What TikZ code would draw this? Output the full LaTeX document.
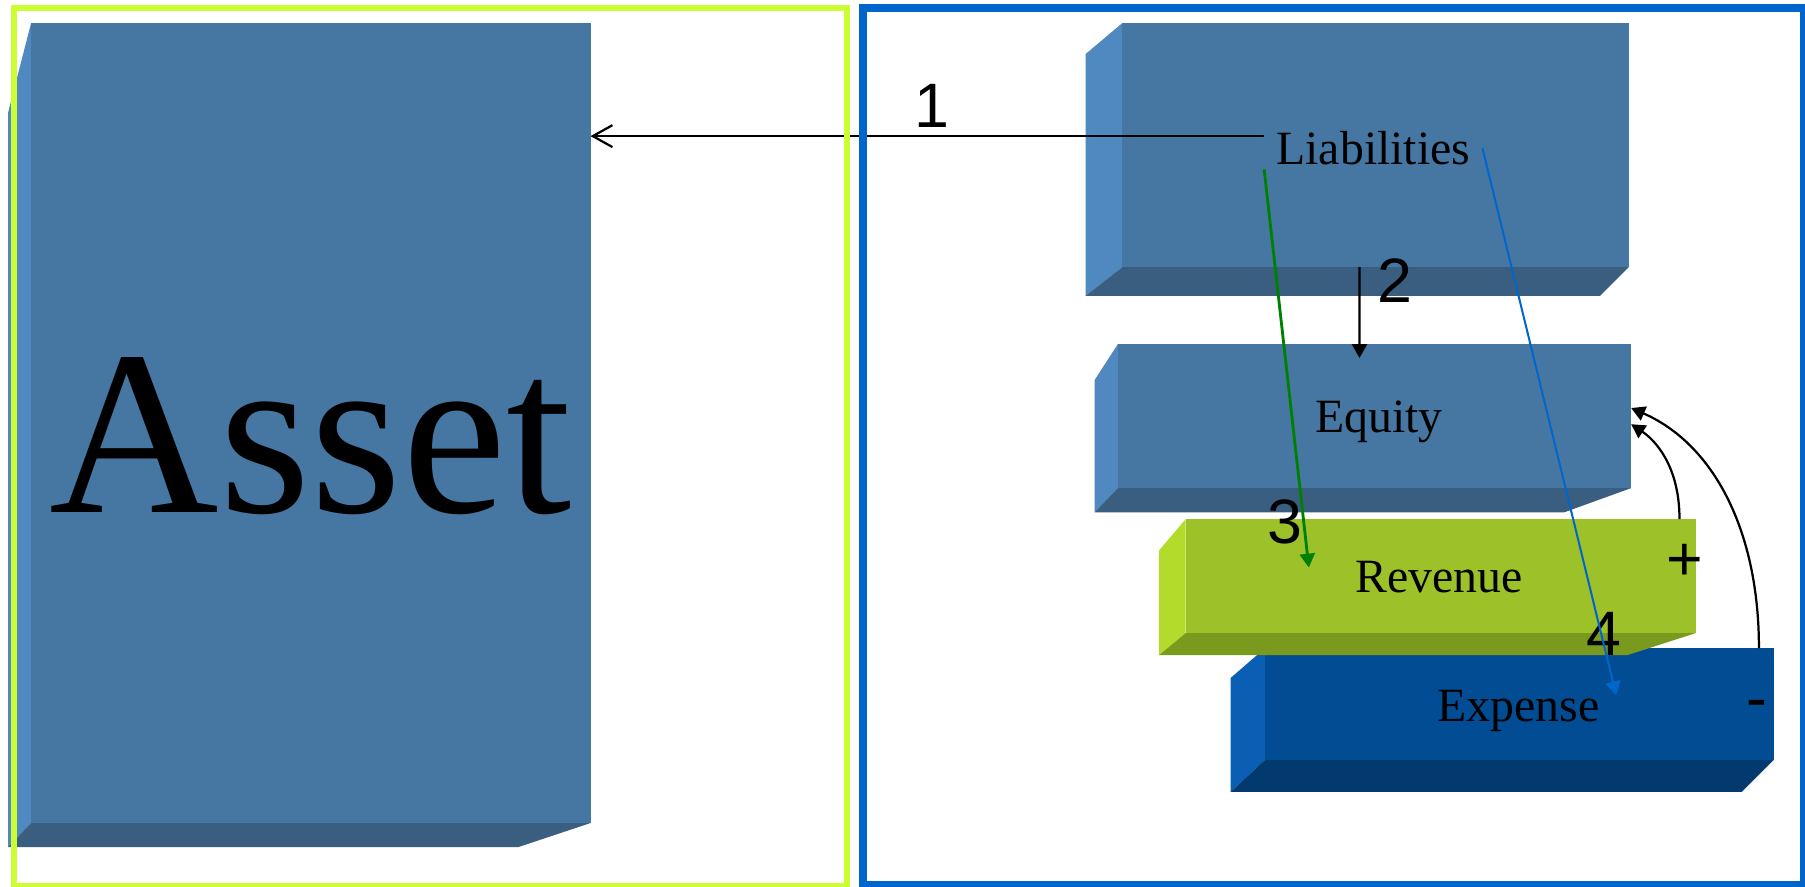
\documentclass[tikz,border=0pt]{standalone}
\usepackage{fontspec}
\setmainfont{Liberation Serif}
\newfontfamily\numfont{Liberation Sans}
\usetikzlibrary{arrows.meta, positioning, calc, fit}
\definecolor{SteelFront}{HTML}{4677A3}
\definecolor{SteelSide}{HTML}{5088C0}
\definecolor{SteelBottom}{HTML}{395E80}
\definecolor{LimeFront}{HTML}{9DC128}
\definecolor{LimeSide}{HTML}{B3DB2C}
\definecolor{LimeBottom}{HTML}{7A9A1E}
\definecolor{NavyFront}{HTML}{024C93}
\definecolor{NavySide}{HTML}{0A5EB4}
\definecolor{NavyBottom}{HTML}{02396F}
\definecolor{FrameLime}{HTML}{CCFF33}
\definecolor{FrameBlue}{HTML}{0066CC}
\definecolor{FlowGreen}{HTML}{008000}
\definecolor{FlowBlue}{HTML}{0066CC}

\tikzset{
  slabface/.style={inner sep=0pt, outer sep=0pt, draw=none},
  slabtext/.style={font=\fontsize{11.8}{14}\selectfont, inner sep=0.1cm, anchor=base},
  stepnum/.style={font=\numfont\fontsize{15.5}{18}\selectfont, inner sep=0pt, anchor=base},
  flow/.style={line width=0.55pt, -{Triangle[length=1.2mm, width=1.3mm]}},
}

% one 3D slab: name, palette, front NW, front SE, left/bottom offsets
\newcommand{\slab}[7]{%
  \coordinate (#1-nw) at (#3);
  \coordinate (#1-se) at (#4);
  \coordinate (#1-sw) at (#1-nw |- #1-se);
  \fill[#2Side] (#1-nw) -- ++(#5) -- ($(#1-sw)+(#6)$) -- (#1-sw) -- cycle;
  \fill[#2Bottom] ($(#1-sw)+(#6)$) -- (#1-sw) -- (#1-se) -- ($(#1-se)+(#7)$) -- cycle;
  \node[slabface, fill=#2Front, fit=(#1-nw)(#1-se)] (#1) {};
}

\begin{document}
\begin{tikzpicture}[x=0.01cm, y=-0.01cm]
    \useasboundingbox (0,0) rectangle (1568,770);

    % Slabs
    \slab{asset}{Steel}{27,20}{513,715}{-20,78}{-20,21}{-63,21}
    \slab{liab}{Steel}{975,20}{1415,232}{-32,27}{-32,25}{-25,25}
    \slab{eq}{Steel}{971,299}{1417,424}{-20,31}{-20,21}{-58,21}
    \slab{expn}{Navy}{1099,563}{1541,660}{-30,26}{-30,28}{-28,28}
    \slab{rev}{Lime}{1030,451}{1473,550}{-23,27}{-23,19}{-59,19}

    % Labels
    \node[slabtext, font=\fontsize{58}{70}\selectfont] (assettxt) at (270,445) {Asset};
    \node[slabtext] (liabtxt) at (1193,143) {Liabilities};
    \node[slabtext] (eqtxt) at (1198,376) {Equity};
    \node[slabtext] (revtxt) at (1250,515) {Revenue};
    \node[slabtext] (expntxt) at (1319,627) {Expense};

    \node[stepnum] (n1) at (810,111) {1};
    \node[stepnum] (n2) at (1212,263) {2};
    \node[stepnum] (n3) at (1116,472) {3};
    \node[stepnum] (n4) at (1393,569) {4};
    \node[stepnum] (plus) at (1464,504) {+};
    \node[stepnum] (minus) at (1526,625) {-};

    % Flows
    \coordinate (from1) at ([yshift=3pt]liabtxt.west);
    \draw[line width=0.55pt, -{Straight Barb[length=1.7mm, width=1.9mm]}]
        (from1) -- (from1 -| asset.east);
    \draw[flow] ([xshift=-0.14cm]liab.south) -- ([xshift=-0.13cm, yshift=-0.12cm]eq.north);
    \coordinate (tip3) at (1137,493);
    \draw[flow, FlowGreen, line width=0.7pt] ([yshift=2pt]liabtxt.south west) -- (tip3);
    \coordinate (tip4) at (1404,604);
    \draw[flow, FlowBlue, line width=0.5pt] (liabtxt.east) -- (tip4);
    \draw[flow] ([xshift=-0.14cm]rev.north east) .. controls +(0,-46) and +(21,14) .. ([yshift=-2pt]eq.east);
    \draw[flow] ([xshift=-0.13cm]expn.north east) .. controls +(0,-103) and +(71,31) .. ([yshift=2pt]eq.east);

    % Frames
    \draw[FrameLime, line width=1.5pt] (12.5,7) rectangle (735.5,769.5);
    \draw[FrameBlue, line width=2pt] (749.5,7) rectangle (1567.5,769);
\end{tikzpicture}
\end{document}
